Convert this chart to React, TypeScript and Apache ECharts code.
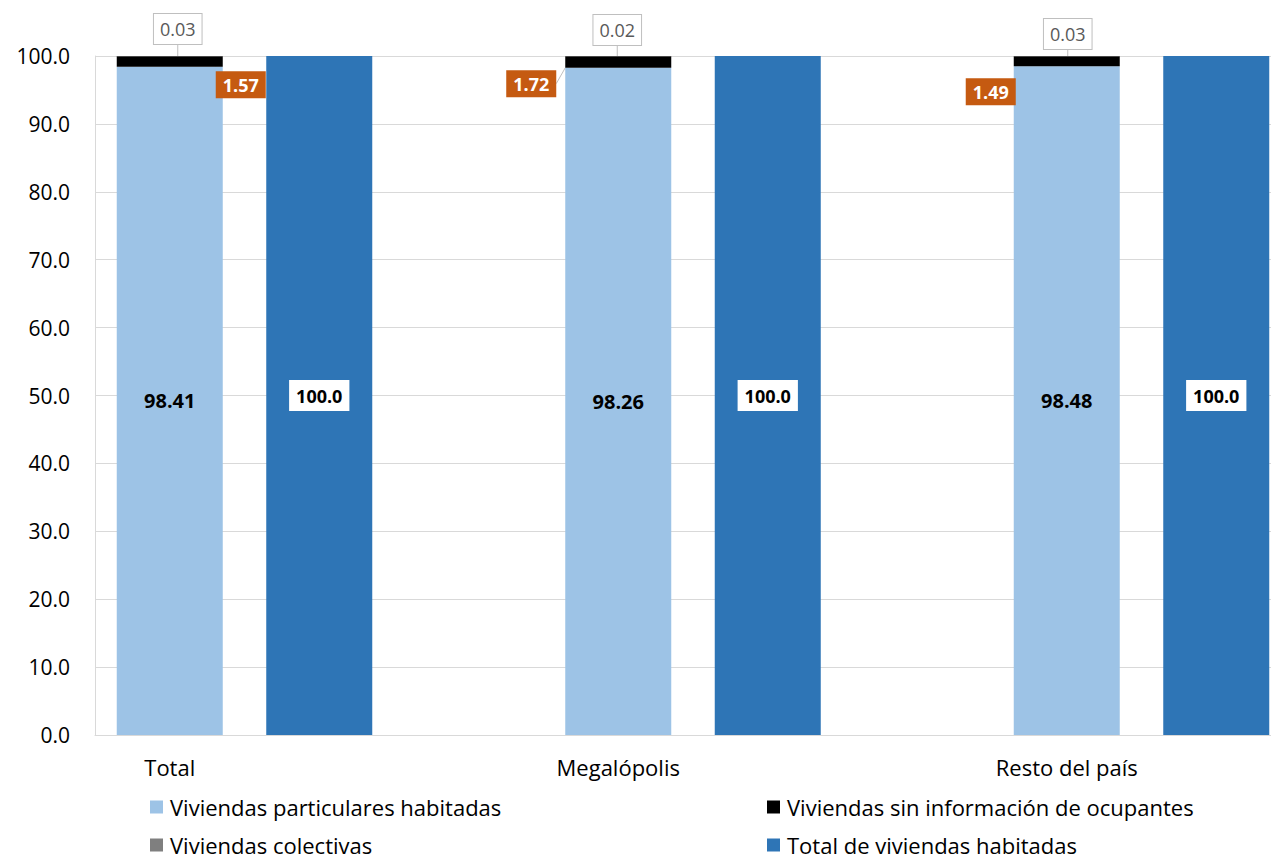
import { useEffect, useRef } from 'react';
import * as echarts from 'echarts';

// Porcentaje de viviendas por tipo, según región
const regions = ['Total', 'Megalópolis', 'Resto del país'];
const particulares = [98.41, 98.26, 98.48];
const sinInformacion = [1.57, 1.72, 1.49];
const colectivas = [0.03, 0.02, 0.03];
const totalHabitadas = [100.0, 100.0, 100.0];

const Y_MAX = 100;
const Y_STEP = 10;

const NAME_PART = 'Viviendas particulares habitadas';
const NAME_SIN = 'Viviendas sin información de ocupantes';
const NAME_COL = 'Viviendas colectivas';
const NAME_TOT = 'Total de viviendas habitadas';

// Each region uses three slots on the category axis: stacked bar, total bar, spacer.
const SLOTS = 3;
const slotCount = regions.length * SLOTS - 1;

function spread<T>(values: T[], offset: number, fill: any): any[] {
  const out: any[] = new Array(slotCount).fill(fill);
  values.forEach((v, i) => {
    out[i * SLOTS + offset] = v;
  });
  return out;
}

const FONT = '"Open Sans", Lato, sans-serif';

// Callout placement for the "sin información" labels, relative to the bar segment
const sinCallouts = [
  { align: 'left', position: [99, 15] },
  { align: 'right', position: [-9, 14] },
  { align: 'right', position: [2, 22] },
];
// Callout placement for the "colectivas" labels
const colCallouts = [
  { position: [61, -12] },
  { position: [52, -11] },
  { position: [54, -7] },
];

export default function App() {
  const ref = useRef<HTMLDivElement>(null);

  useEffect(() => {
    if (!ref.current) return;
    const chart = echarts.init(ref.current, null, { renderer: 'svg' });

    const sinData = spread(
      sinInformacion.map((v, i) => ({
        value: v,
        label: {
          show: true,
          position: sinCallouts[i].position,
          align: sinCallouts[i].align,
          verticalAlign: 'top',
          formatter: v.toFixed(2),
          backgroundColor: '#C55A11',
          color: '#ffffff',
          fontWeight: 'bold',
          fontSize: 18,
          fontFamily: FONT,
          padding: [5, 7, 4, 7],
        },
        labelLine: { show: true, lineStyle: { color: '#bfbfbf', width: 1 } },
      })),
      0,
      null
    );

    const colData = spread(
      colectivas.map((v, i) => ({
        value: v,
        label: {
          show: true,
          position: colCallouts[i].position,
          align: 'center',
          verticalAlign: 'bottom',
          formatter: v.toFixed(2),
          backgroundColor: '#ffffff',
          borderColor: '#bfbfbf',
          borderWidth: 1,
          color: '#595959',
          fontSize: 18,
          fontFamily: FONT,
          padding: [6, 6],
        },
        labelLine: { show: true, lineStyle: { color: '#bfbfbf', width: 1 } },
      })),
      0,
      null
    );

    const legendItem = (name: string, left: number, top: number) => ({
      data: [name],
      left,
      top,
      padding: 0,
      icon: 'rect',
      itemWidth: 13,
      itemHeight: 13,
      itemGap: 0,
      selectedMode: false,
      textStyle: {
        fontSize: 22,
        lineHeight: 22,
        fontFamily: FONT,
        color: '#000000',
        padding: [0, 0, 0, 2],
      },
    });

    chart.setOption({
      animation: false,
      backgroundColor: '#ffffff',
      textStyle: { fontFamily: FONT },
      grid: { left: 95, top: 56, width: 1196, height: 679 },
      legend: [
        legendItem(NAME_PART, 150, 796),
        legendItem(NAME_SIN, 767, 796),
        legendItem(NAME_COL, 150, 834),
        legendItem(NAME_TOT, 767, 834),
      ],
      xAxis: {
        type: 'category',
        data: spread(regions, 0, ''),
        axisTick: { show: false },
        axisLine: { lineStyle: { color: '#d9d9d9', width: 1 } },
        axisLabel: {
          interval: 0,
          fontSize: 22,
          fontFamily: FONT,
          color: '#000000',
          margin: 21,
        },
      },
      yAxis: {
        type: 'value',
        min: 0,
        max: Y_MAX,
        interval: Y_STEP,
        axisLine: { show: true, lineStyle: { color: '#d9d9d9', width: 1 } },
        axisTick: { show: false },
        splitLine: { lineStyle: { color: '#d9d9d9', width: 1 } },
        axisLabel: {
          fontSize: 21,
          fontFamily: FONT,
          color: '#000000',
          margin: 25,
          formatter: (v: number) => v.toFixed(1),
        },
      },
      series: [
        {
          name: NAME_PART,
          type: 'bar',
          stack: 'tipo',
          barWidth: 106,
          barGap: '-100%',
          itemStyle: { color: '#9DC3E6' },
          label: {
            show: true,
            position: 'inside',
            fontSize: 20,
            fontWeight: 'bold',
            fontFamily: FONT,
            color: '#000000',
            formatter: (p: any) => Number(p.value).toFixed(2),
          },
          data: spread(particulares, 0, null),
        },
        {
          name: NAME_SIN,
          type: 'bar',
          stack: 'tipo',
          barWidth: 106,
          barGap: '-100%',
          itemStyle: { color: '#000000' },
          data: sinData,
        },
        {
          name: NAME_COL,
          type: 'bar',
          stack: 'tipo',
          barWidth: 106,
          barGap: '-100%',
          itemStyle: { color: '#7F7F7F' },
          data: colData,
        },
        {
          name: NAME_TOT,
          type: 'bar',
          stack: 'total',
          barWidth: 106,
          barGap: '-100%',
          itemStyle: { color: '#2E75B6' },
          label: {
            show: true,
            position: 'inside',
            fontSize: 18,
            fontWeight: 'bold',
            fontFamily: FONT,
            color: '#000000',
            backgroundColor: '#ffffff',
            padding: [7, 7, 6, 7],
            formatter: (p: any) => Number(p.value).toFixed(1),
          },
          data: spread(totalHabitadas, 1, null),
        },
      ],
    });

    return () => chart.dispose();
  }, []);

  return (
    <div
      style={{
        position: 'absolute',
        left: 0,
        top: 0,
        width: 1271,
        height: 859,
        overflow: 'hidden',
        background: '#ffffff',
      }}
    >
      <div ref={ref} style={{ width: 1300, height: 859 }} />
    </div>
  );
}
